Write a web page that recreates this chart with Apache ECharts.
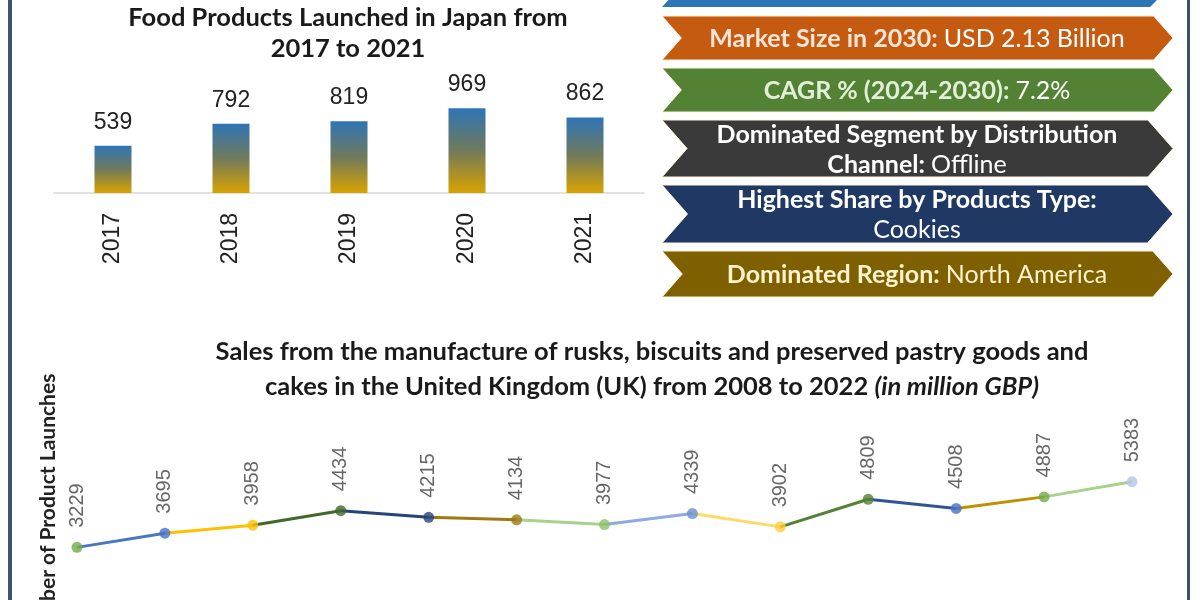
<!DOCTYPE html>
<html>
<head>
<meta charset="utf-8">
<script src="https://cdn.jsdelivr.net/npm/echarts@6/dist/echarts.min.js"></script>
<style>
html,body{margin:0;padding:0;background:#ffffff;}
#main{width:1200px;height:600px;}
</style>
</head>
<body>
<div id="main"></div>
<script>
// ---- data ----
const barCategories = ['2017', '2018', '2019', '2020', '2021'];
const barValues = [539, 792, 819, 969, 862];
const lineCategories = ['2010', '2011', '2012', '2013', '2014', '2015', '2016', '2017', '2018', '2019', '2020', '2021', '2022'];
const lineValues = [3229, 3695, 3958, 4434, 4215, 4134, 3977, 4339, 3902, 4809, 4508, 4887, 5383];
const bannerLabels = ['Market Size in 2030:', 'CAGR % (2024-2030):', 'Dominated Segment by Distribution\nChannel:', 'Highest Share by Products Type:', 'Dominated Region:'];
const bannerValues = ['USD 2.13 Billion', '7.2%', 'Offline', 'Cookies', 'North America'];
const barTitle = 'Food Products Launched in Japan from\n2017 to 2021';
const lineTitleMain = 'Sales from the manufacture of rusks, biscuits and preserved pastry goods and\ncakes in the United Kingdom (UK) from 2008 to 2022';
const lineTitleUnit = '(in million GBP)';
const lineAxisName = 'Number of Product Launches';

// ---- styles ----
const pointColors = ['#70AD47', '#4472C4', '#FFC000', '#43682B', '#264478', '#9E7A13', '#8CC168', '#698ED0', '#FFCD33', '#548235', '#4472C4', '#70AD47', '#B4C7E7'];
const segColors = [null, '#4A76C0', '#FFC000', '#43682B', '#264478', '#9E7A13', '#A9D18E', '#8FAADC', '#FFD966', '#548235', '#2F5597', '#BF9000', '#A9D18E'];
const bannerColors = ['#C55A11', '#548235', '#3A3A3A', '#1F3864', '#7F6000'];
const bannerBoldColors = ['#FBE5D6', '#E2F0D9', '#FFFFFF', '#FFFFFF', '#FFF2CC'];
const bannerValueColors = ['#FFFFFF', '#FFFFFF', '#FFFFFF', '#FFFFFF', '#FFF2CC'];
const bannerBoxes = [[16, 60], [68, 112], [120, 177], [185, 243], [251, 297]];
const bannerValueOnNewLine = [false, false, false, true, false];

const chart = echarts.init(document.getElementById('main'), null, {renderer: 'canvas'});

// segment series
const segSeries = [];
for (let i = 1; i < lineValues.length; i++) {
  const d = lineValues.map((v, k) => (k === i - 1 || k === i) ? v : '-');
  segSeries.push({
    type: 'line', xAxisIndex: 1, yAxisIndex: 1, data: d, symbol: 'none',
    lineStyle: {color: segColors[i], width: 3}, z: 2, silent: true, connectNulls: false
  });
}

// graphic elements
const graphics = [];
graphics.push({type: 'rect', shape: {x: 8, y: 0, width: 4, height: 600}, style: {fill: '#3B5569'}});
graphics.push({type: 'rect', shape: {x: 1187, y: 0, width: 3, height: 600}, style: {fill: '#3D5266'}});

graphics.push({type: 'polygon', shape: {points: [[662, -38], [1153, -38], [1172, -15], [1150, 7], [662, 7], [682, -15]]}, style: {fill: '#2E75B6'}});

const L = 662, R = 1173;
const FS = 25;
bannerBoxes.forEach((b, i) => {
  const t = b[0], bt = b[1], m = (t + bt) / 2, half = (bt - t) / 2, off = half * 0.88;
  graphics.push({
    type: 'polygon',
    shape: {points: [[L, t], [R - off, t], [R, m], [R - off, bt], [L, bt], [L + off, m]]},
    style: {fill: bannerColors[i], stroke: '#FDF3DA', lineWidth: 1}
  });
  const boldLines = bannerLabels[i].split('\n');
  const onNew = bannerValueOnNewLine[i];
  let txt = boldLines.map((s, k) => '{b|' + s + ((k === boldLines.length - 1 && !onNew) ? ' ' : '') + '}').join('\n') + (onNew ? '\n' : '') + '{n|' + bannerValues[i] + '}';
  graphics.push({
    type: 'text', x: 917, y: m + 1,
    style: {
      text: txt, align: 'center', verticalAlign: 'middle',
      rich: {
        b: {fontFamily: 'Lato', fontWeight: 'bold', fontSize: FS, fill: bannerBoldColors[i], lineHeight: 30},
        n: {fontFamily: 'Lato', fontWeight: 'normal', fontSize: FS, fill: bannerValueColors[i], lineHeight: 30}
      }
    }
  });
});

graphics.push({
  type: 'text', x: 348, y: 33,
  style: {text: barTitle, align: 'center', verticalAlign: 'middle', fontFamily: 'Lato', fontWeight: 'bold', fontSize: 25.5, lineHeight: 31, fill: '#1a1a1a'}
});
const tl = lineTitleMain.split('\n');
graphics.push({
  type: 'text', x: 652, y: 369,
  style: {
    text: '{b|' + tl[0] + '}\n{b|' + tl[1] + ' }{i|' + lineTitleUnit + '}',
    align: 'center', verticalAlign: 'middle',
    rich: {
      b: {fontFamily: 'Lato', fontWeight: 'bold', fontSize: 25.5, lineHeight: 35, fill: '#1a1a1a'},
      i: {fontFamily: 'Lato', fontWeight: 'bold', fontStyle: 'italic', fontSize: 25.5, lineHeight: 35, fill: '#1a1a1a'}
    }
  }
});
graphics.push({
  type: 'text', x: 48, y: 510, rotation: Math.PI / 2,
  style: {text: lineAxisName, align: 'center', verticalAlign: 'middle', fontFamily: 'Lato', fontWeight: 'bold', fontSize: 21, fill: '#222222'}
});

const option = {
  backgroundColor: '#ffffff',
  animation: false,
  grid: [
    {left: 54, top: 88, width: 590, height: 105},
    {left: 77, top: 463, width: 1055, height: 137}
  ],
  xAxis: [
    {
      type: 'category', gridIndex: 0, data: barCategories,
      axisLine: {lineStyle: {color: '#D9D9D9', width: 1.5}},
      axisTick: {show: false},
      axisLabel: {rotate: 90, margin: 20, fontFamily: 'Liberation Sans', fontSize: 23, color: '#222222'}
    },
    {type: 'category', gridIndex: 1, data: lineCategories, boundaryGap: false, show: false}
  ],
  yAxis: [
    {type: 'value', gridIndex: 0, min: 0, max: 1200, show: false},
    {type: 'value', gridIndex: 1, min: 1500, max: 6000, show: false}
  ],
  graphic: graphics,
  series: [
    {
      type: 'bar', xAxisIndex: 0, yAxisIndex: 0, data: barValues, barWidth: 37,
      itemStyle: {
        color: new echarts.graphic.LinearGradient(0, 0, 0, 1, [
          {offset: 0, color: '#2E75B6'},
          {offset: 0.5, color: '#707A5C'},
          {offset: 1, color: '#D9A300'}
        ])
      },
      label: {show: true, position: 'top', distance: 12, fontFamily: 'Liberation Sans', fontSize: 23, color: '#222222'}
    },
    ...segSeries,
    {
      type: 'scatter', xAxisIndex: 1, yAxisIndex: 1, symbolSize: 11, z: 5,
      data: lineValues.map((v, k) => ({value: v, itemStyle: {color: pointColors[k]}})),
      label: {
        show: true, position: 'top', distance: 14, rotate: 90, align: 'left', verticalAlign: 'middle',
        fontFamily: 'Liberation Sans', fontSize: 20, color: '#404040'
      }
    }
  ]
};
chart.setOption(option);
</script>
</body>
</html>
